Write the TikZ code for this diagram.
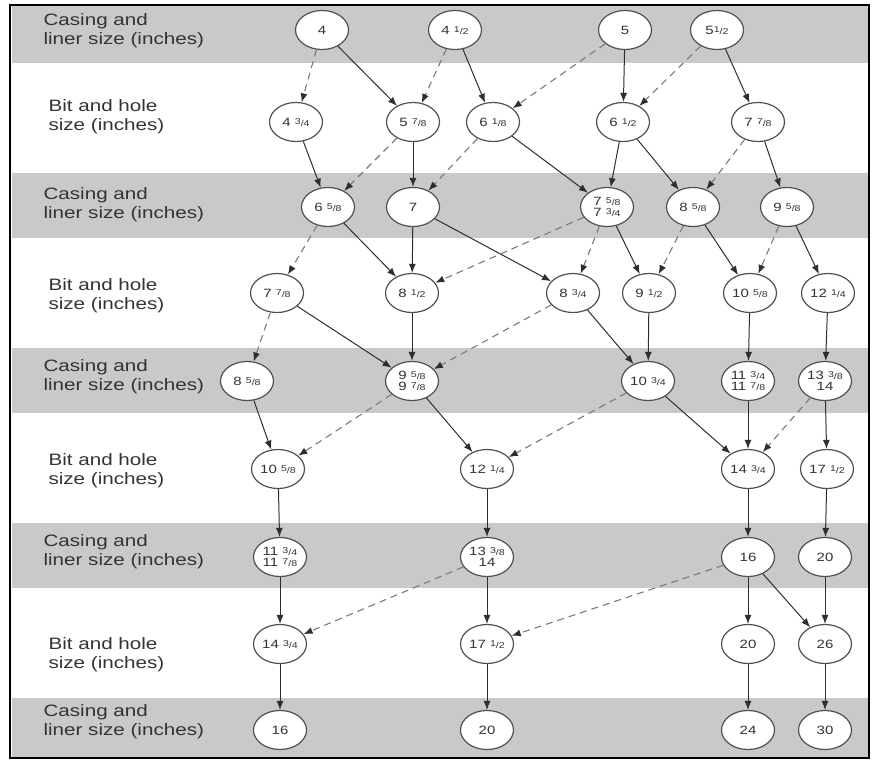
\documentclass[tikz,border=0pt]{standalone}
\usepackage{fontspec}
\setmainfont{Liberation Sans}[FakeStretch=1.25]
\usetikzlibrary{arrows.meta,shapes.geometric}
\definecolor{band}{HTML}{C9C9C9}
\definecolor{dline}{HTML}{7A7A7A}
\definecolor{sline}{HTML}{2E2E2E}
\definecolor{eline}{HTML}{505050}
\definecolor{labtext}{HTML}{333333}
\newcommand\fr[2]{{\fontsize{8.5}{9}\selectfont\raisebox{0.45ex}{#1}/#2}}
\begin{document}
\begin{tikzpicture}[x=1pt,y=-1pt,
 sz/.style={ellipse,draw=eline,fill=white,line width=1.2pt,minimum width=53pt,minimum height=39pt,inner sep=0pt,font=\fontsize{12}{11}\selectfont,align=center,text=labtext},
 lab/.style={anchor=west,align=left,font=\fontsize{16.5}{19}\selectfont,text=labtext},
 sol/.style={-{Latex[length=9pt,width=7pt]},draw=sline,line width=1pt},
 das/.style={-{Latex[length=9pt,width=7pt,color=sline]},draw=dline,line width=1.1pt,dash pattern=on 7pt off 5pt}]
\useasboundingbox (0,0) rectangle (880,761);
% bands
\fill[band] (12,6) rectangle (868,63);
\fill[band] (12,173) rectangle (868,238);
\fill[band] (12,348) rectangle (868,413);
\fill[band] (12,523) rectangle (868,588);
\fill[band] (12,698) rectangle (868,757);
\draw[line width=1.5pt] (10,5) rectangle (869,758);
% labels
\node[lab] (l1) at (40,31) {Casing and\\liner size (inches)};
\node[lab] (l2) at (45,117) {Bit and hole\\size (inches)};
\node[lab] (l3) at (40,205) {Casing and\\liner size (inches)};
\node[lab] (l4) at (45,296) {Bit and hole\\size (inches)};
\node[lab] (l5) at (40,377) {Casing and\\liner size (inches)};
\node[lab] (l6) at (45,471) {Bit and hole\\size (inches)};
\node[lab] (l7) at (40,552) {Casing and\\liner size (inches)};
\node[lab] (l8) at (45,655) {Bit and hole\\size (inches)};
\node[lab] (l9) at (40,722) {Casing and\\liner size (inches)};
% row 1
\node[sz] (a1) at (322,30) {4};
\node[sz] (a2) at (455,30) {4 \fr{1}{2}};
\node[sz] (a3) at (625,30) {5};
\node[sz] (a4) at (717,30) {5\fr{1}{2}};
% row 2
\node[sz] (b1) at (296,122) {4 \fr{3}{4}};
\node[sz] (b2) at (413,122) {5 \fr{7}{8}};
\node[sz] (b3) at (493,122) {6 \fr{1}{8}};
\node[sz] (b4) at (623,122) {6 \fr{1}{2}};
\node[sz] (b5) at (758,122) {7 \fr{7}{8}};
% row 3
\node[sz] (c1) at (328,207) {6 \fr{5}{8}};
\node[sz] (c2) at (413,207) {7};
\node[sz] (c3) at (607,207) {7 \fr{5}{8}\\7 \fr{3}{4}};
\node[sz] (c4) at (693,207) {8 \fr{5}{8}};
\node[sz] (c5) at (787,207) {9 \fr{5}{8}};
% row 4
\node[sz] (d1) at (277,293) {7 \fr{7}{8}};
\node[sz] (d2) at (412,293) {8 \fr{1}{2}};
\node[sz] (d3) at (573,293) {8 \fr{3}{4}};
\node[sz] (d4) at (649,293) {9 \fr{1}{2}};
\node[sz] (d5) at (750,293) {10 \fr{5}{8}};
\node[sz] (d6) at (828,293) {12 \fr{1}{4}};
% row 5
\node[sz] (e1) at (247,381) {8 \fr{5}{8}};
\node[sz] (e2) at (412,381) {9 \fr{5}{8}\\9 \fr{7}{8}};
\node[sz] (e3) at (648,381) {10 \fr{3}{4}};
\node[sz] (e4) at (748,381) {11 \fr{3}{4}\\11 \fr{7}{8}};
\node[sz] (e5) at (825,381) {13 \fr{3}{8}\\14};
% row 6
\node[sz] (f1) at (278,469) {10 \fr{5}{8}};
\node[sz] (f2) at (487,469) {12 \fr{1}{4}};
\node[sz] (f3) at (748,469) {14 \fr{3}{4}};
\node[sz] (f4) at (827,469) {17 \fr{1}{2}};
% row 7
\node[sz] (g1) at (280,557) {11 \fr{3}{4}\\11 \fr{7}{8}};
\node[sz] (g2) at (487,557) {13 \fr{3}{8}\\14};
\node[sz] (g3) at (748,557) {16};
\node[sz] (g4) at (825,557) {20};
% row 8
\node[sz] (h1) at (280,644) {14 \fr{3}{4}};
\node[sz] (h2) at (487,644) {17 \fr{1}{2}};
\node[sz] (h3) at (748,644) {20};
\node[sz] (h4) at (825,644) {26};
% row 9
\node[sz] (i1) at (280,730) {16};
\node[sz] (i2) at (487,730) {20};
\node[sz] (i3) at (748,730) {24};
\node[sz] (i4) at (825,730) {30};
% edges row1->row2
\draw[das] (a1) -- (b1);
\draw[sol] (a1) -- (b2);
\draw[das] (a2) -- (b2);
\draw[sol] (a2) -- (b3);
\draw[das] (a3) -- (b3);
\draw[sol] (a3) -- (b4);
\draw[das] (a4) -- (b4);
\draw[sol] (a4) -- (b5);
% row2->row3
\draw[sol] (b1) -- (c1);
\draw[das] (b2) -- (c1);
\draw[sol] (b2) -- (c2);
\draw[das] (b3) -- (c2);
\draw[sol] (b3) -- (c3);
\draw[sol] (b4) -- (c3);
\draw[sol] (b4) -- (c4);
\draw[das] (b5) -- (c4);
\draw[sol] (b5) -- (c5);
% row3->row4
\draw[das] (c1) -- (d1);
\draw[sol] (c1) -- (d2);
\draw[sol] (c2) -- (d2);
\draw[sol] (c2) -- (d3);
\draw[das] (c3) -- (d2);
\draw[das] (c3) -- (d3);
\draw[sol] (c3) -- (d4);
\draw[das] (c4) -- (d4);
\draw[sol] (c4) -- (d5);
\draw[das] (c5) -- (d5);
\draw[sol] (c5) -- (d6);
% row4->row5
\draw[das] (d1) -- (e1);
\draw[sol] (d1) -- (e2);
\draw[sol] (d2) -- (e2);
\draw[das] (d3) -- (e2);
\draw[sol] (d3) -- (e3);
\draw[sol] (d4) -- (e3);
\draw[sol] (d5) -- (e4);
\draw[sol] (d6) -- (e5);
% row5->row6
\draw[sol] (e1) -- (f1);
\draw[das] (e2) -- (f1);
\draw[sol] (e2) -- (f2);
\draw[das] (e3) -- (f2);
\draw[sol] (e3) -- (f3);
\draw[sol] (e4) -- (f3);
\draw[das] (e5) -- (f3);
\draw[sol] (e5) -- (f4);
% row6->row7
\draw[sol] (f1) -- (g1);
\draw[sol] (f2) -- (g2);
\draw[sol] (f3) -- (g3);
\draw[sol] (f4) -- (g4);
% row7->row8
\draw[sol] (g1) -- (h1);
\draw[das] (g2) -- (h1);
\draw[sol] (g2) -- (h2);
\draw[das] (g3) -- (h2);
\draw[sol] (g3) -- (h3);
\draw[sol] (g3) -- (h4);
\draw[sol] (g4) -- (h4);
% row8->row9
\draw[sol] (h1) -- (i1);
\draw[sol] (h2) -- (i2);
\draw[sol] (h3) -- (i3);
\draw[sol] (h4) -- (i4);
\end{tikzpicture}
\end{document}
